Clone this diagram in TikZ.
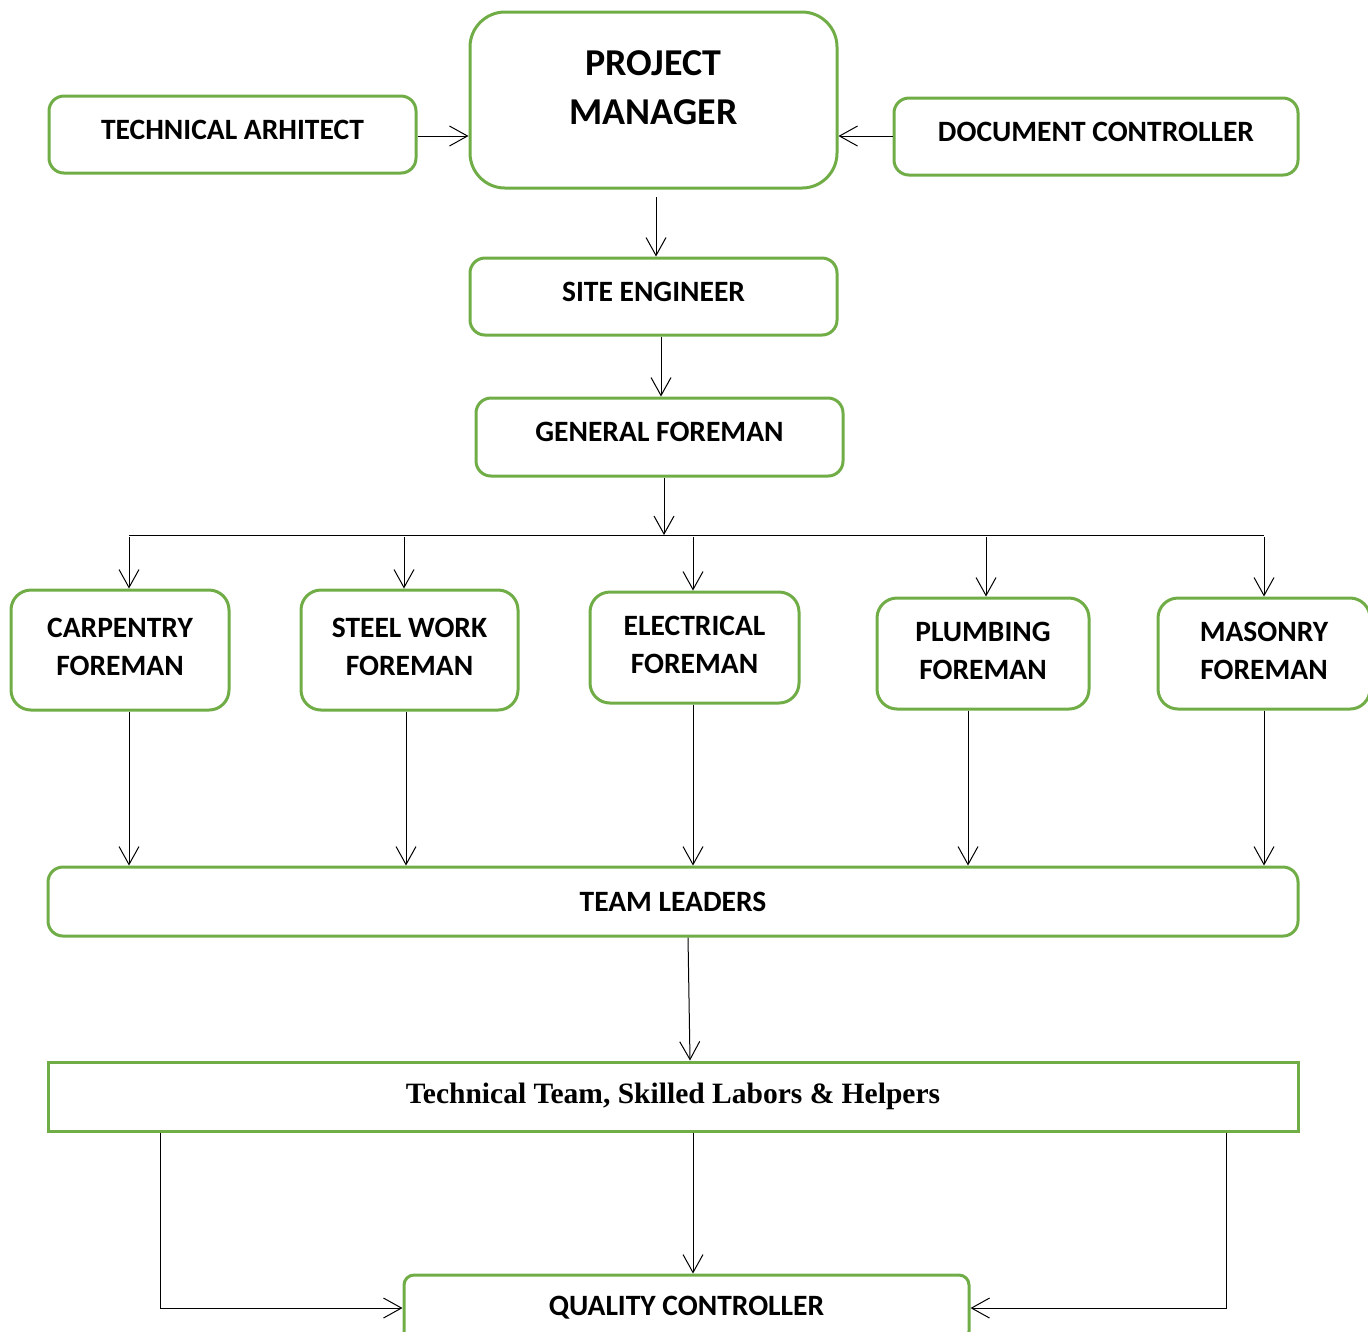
\documentclass[tikz,border=0pt]{standalone}
\usepackage{fontspec}
\newfontfamily\calib{Carlito}
\newfontfamily\tnr{Liberation Serif}
\usetikzlibrary{arrows.meta,positioning,calc}
\definecolor{boxgreen}{HTML}{70AD47}

\tikzset{
  box/.style={draw=boxgreen,line width=0.3mm,rounded corners=1.5mm,align=center,inner sep=0pt,
    font=\calib\bfseries\fontsize{8.4}{10.8}\selectfont},
  sbox/.style={box,text depth=1mm},
  fbox/.style={box,rounded corners=2mm,text depth=0.6mm},
  arr/.style={-{Straight Barb[length=1.8mm,width=2mm]},line width=0.1mm},
  link/.style={line width=0.1mm}
}

\begin{document}
\begin{tikzpicture}[x=0.1mm,y=-0.1mm]
\useasboundingbox (0,0) rectangle (1368,1331);

% top row
\node[box,rounded corners=3.5mm,minimum width=36.7mm,minimum height=17.6mm,
  label={[align=center,yshift=1.2mm,font=\calib\bfseries\fontsize{10.8}{13.9}\selectfont]center:PROJECT\\MANAGER}]
  (pm) at (653.5,100) {};
\node[sbox,minimum width=36.7mm,minimum height=7.7mm] (ta) at (232.5,134.5) {TECHNICAL ARHITECT};
\node[sbox,minimum width=40.4mm,minimum height=7.7mm] (dc) at (1096,136.5) {DOCUMENT CONTROLLER};
\draw[arr] (ta.east |- 0,136) -- (pm.west |- 0,136);
\draw[arr] (dc.west |- 0,136) -- (pm.east |- 0,136);

% site chain
\node[sbox,minimum width=36.7mm,minimum height=7.7mm] (se) at (653.5,296.5) {SITE ENGINEER};
\node[sbox,minimum width=36.7mm,minimum height=7.8mm] (gf) at (659.5,437) {GENERAL FOREMAN};
\draw[arr] (656,197) -- (656,0 |- se.north);
\draw[arr] (661,0 |- se.south) -- (661,0 |- gf.north);

\coordinate (busL) at (129,535);
\coordinate (busR) at (1264,535);
\draw[link] (busL) -- (busR);
\draw[arr] (664,0 |- gf.south) -- (664,0 |- busL);

\node[box,minimum width=125mm,minimum height=6.9mm] (tl) at (673,901.5) {TEAM LEADERS};

% foremen
\foreach \i/\cx/\cy/\w/\h/\ax/\bx/\txt in {
  1/120/650/21.8/12.0/129/129/{CARPENTRY\\FOREMAN},
  2/409.5/650/21.7/12.0/404/406/{STEEL WORK\\FOREMAN},
  3/694.5/647.5/20.9/11.1/693/693/{ELECTRICAL\\FOREMAN},
  4/983/653.5/21.2/11.1/986/968/{PLUMBING\\FOREMAN},
  5/1264/653.5/21.2/11.1/1264/1264/{MASONRY\\FOREMAN}}{
  \node[fbox,minimum width=\w mm,minimum height=\h mm] (f\i) at (\cx,\cy) {\txt};
  \draw[arr] (\ax,537) -- (\ax,0 |- f\i.north);
  \draw[arr] (\bx,0 |- f\i.south) -- (\bx,0 |- tl.north);
}

% bottom
\node[draw=boxgreen,line width=0.3mm,minimum width=125mm,minimum height=6.9mm,inner sep=0pt,
  font=\tnr\bfseries\fontsize{8.4}{10}\selectfont] (tt) at (673,1096.5) {Technical Team, Skilled Labors \& Helpers};
\node[box,rounded corners=1mm,minimum width=56.5mm,minimum height=6.6mm] (qc) at (686.5,1308) {QUALITY CONTROLLER};
\draw[arr] (688,0 |- tl.south) -- (690,0 |- tt.north);
\draw[arr] (693,0 |- tt.south) -- (693,0 |- qc.north);
\draw[arr] (160,0 |- tt.south) |- (qc.west);
\draw[arr] (1226,0 |- tt.south) |- (qc.east);

\end{tikzpicture}
\end{document}
